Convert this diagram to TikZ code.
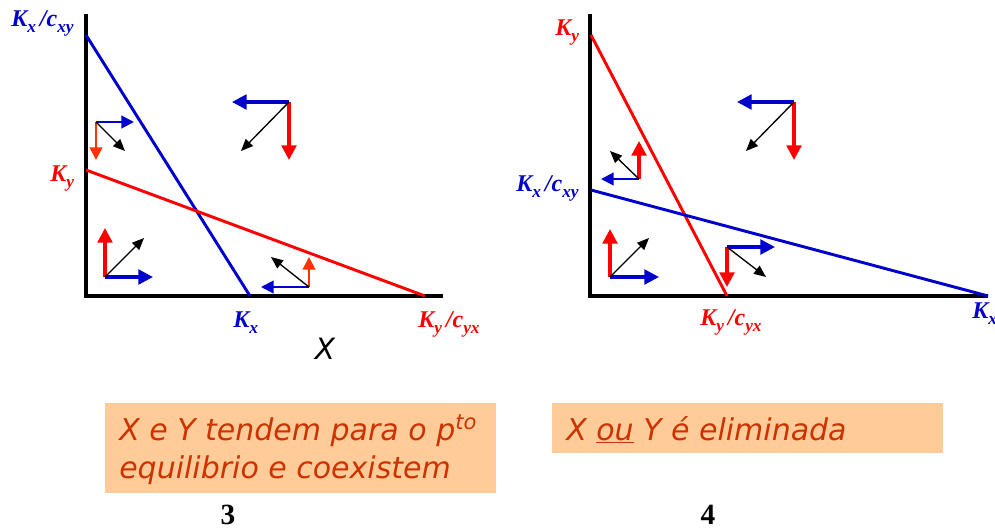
\documentclass[tikz,border=0pt]{standalone}
\usepackage{fontspec}
\setmainfont{Liberation Serif}
\newfontfamily\comicfont{DejaVu Sans}
\usetikzlibrary{arrows.meta}
\definecolor{cblue}{HTML}{0000CC}
\definecolor{cred}{HTML}{FF0000}
\definecolor{corange}{HTML}{FF3300}
\definecolor{boxfill}{HTML}{FFCC99}
\definecolor{boxtext}{HTML}{CC3300}
\newcommand\ksub[2]{#1\raisebox{-4.5pt}{\fontsize{13}{13}\selectfont #2}}
\begin{document}
\begin{tikzpicture}[x=0.75pt,y=-0.75pt,
  axis/.style={line width=3pt},
  iso/.style={line width=2.2pt},
  bigarr/.style={line width=2.5pt,-{Triangle[length=11pt,width=11pt]}},
  smallarr/.style={line width=1.6pt,-{Triangle[length=9.5pt,width=9.5pt]}},
  blkarr/.style={line width=1pt,-{Triangle[length=9pt,width=7.5pt]}},
  klabel/.style={font=\fontsize{18}{20}\selectfont\bfseries\itshape, inner sep=0pt, anchor=base west},
  comic/.style={font=\fontsize{22.5}{28}\selectfont\comicfont\itshape, text=boxtext, inner sep=0pt, anchor=base west},
  numlabel/.style={font=\fontsize{22}{22}\selectfont\bfseries, inner sep=0pt, anchor=base}]
\useasboundingbox (0,0) rectangle (995,529);

% ---------------- left panel ----------------
\coordinate (LT) at (86,14);
\coordinate (LO) at (86,296);
\coordinate (LE) at (443,296);
\draw[axis] (LT) -- (LO) -- (LE);
\coordinate (LB1) at (86,35);
\coordinate (LB2) at (250,296);
\coordinate (LR1) at (86,170);
\coordinate (LR2) at (425,296);
\draw[iso,cblue] (LB1) -- (LB2);
\draw[iso,cred] (LR1) -- (LR2);

\node[klabel,text=cblue] (lkxc) at (11,26) {\ksub{K}{x}\hspace{3pt}/\ksub{c}{xy}};
\node[klabel,text=cred] (lky) at (50,181) {\ksub{K}{y}};
\node[klabel,text=cblue] (lkx) at (233,327) {\ksub{K}{x}};
\node[klabel,text=cred] (lkyc) at (418,327) {\ksub{K}{y}\hspace{3pt}/\ksub{c}{yx}};
\node[font=\fontsize{22}{24}\selectfont\comicfont\itshape, inner sep=0pt] (lX) at (325,349) {X};

% group 1
\coordinate (a1) at (96,122);
\coordinate (a1b) at (134,122);
\coordinate (a1r) at (96,160);
\coordinate (a1k) at (125,151);
\draw[smallarr,cblue] (a1) -- (a1b);
\draw[smallarr,corange] (a1) -- (a1r);
\draw[blkarr] (a1) -- (a1k);
% group 2
\coordinate (a2) at (289,102);
\coordinate (a2b) at (232,102);
\coordinate (a2r) at (289,160);
\coordinate (a2k) at (241,151);
\draw[bigarr,cblue] (a2) -- (a2b);
\draw[bigarr,cred] (a2) -- (a2r);
\draw[blkarr] (a2) -- (a2k);
% group 3
\coordinate (a3) at (105,277);
\coordinate (a3r) at (105,228);
\coordinate (a3b) at (153,277);
\coordinate (a3k) at (144,238);
\draw[bigarr,cred] (a3) -- (a3r);
\draw[bigarr,cblue] (a3) -- (a3b);
\draw[blkarr] (a3) -- (a3k);
% group 4
\coordinate (a4) at (309,287);
\coordinate (a4b) at (261,287);
\coordinate (a4r) at (309,257);
\coordinate (a4k) at (271,257);
\draw[smallarr,cblue] (a4) -- (a4b);
\draw[smallarr,corange] (a4) -- (a4r);
\draw[blkarr] (a4) -- (a4k);

% ---------------- right panel ----------------
\coordinate (RT) at (590,14);
\coordinate (RO) at (590,296);
\coordinate (RE) at (988,296);
\draw[axis] (RT) -- (RO) -- (RE);
\coordinate (RR1) at (591,35);
\coordinate (RR2) at (727,296);
\coordinate (RB1) at (591,190);
\coordinate (RB2) at (988,296);
\draw[iso,cred] (RR1) -- (RR2);
\draw[iso,cblue] (RB1) -- (RB2);

\node[klabel,text=cred] (rky) at (555,35) {\ksub{K}{y}};
\node[klabel,text=cblue] (rkxc) at (516,191) {\ksub{K}{x}\hspace{3pt}/\ksub{c}{xy}};
\node[klabel,text=cred] (rkyc) at (700,325) {\ksub{K}{y}\hspace{3pt}/\ksub{c}{yx}};
\node[klabel,text=cblue] (rkx) at (972,318) {\ksub{K}{x}};

% group 1
\coordinate (b1) at (639,179);
\coordinate (b1b) at (601,179);
\coordinate (b1r) at (639,141);
\coordinate (b1k) at (610,151);
\draw[smallarr,cblue] (b1) -- (b1b);
\draw[bigarr,cred] (b1) -- (b1r);
\draw[blkarr] (b1) -- (b1k);
% group 2
\coordinate (b2) at (794,102);
\coordinate (b2b) at (737,102);
\coordinate (b2r) at (794,160);
\coordinate (b2k) at (746,151);
\draw[bigarr,cblue] (b2) -- (b2b);
\draw[bigarr,cred] (b2) -- (b2r);
\draw[blkarr] (b2) -- (b2k);
% group 3
\coordinate (b3) at (610,277);
\coordinate (b3r) at (610,229);
\coordinate (b3b) at (659,277);
\coordinate (b3k) at (649,238);
\draw[bigarr,cred] (b3) -- (b3r);
\draw[bigarr,cblue] (b3) -- (b3b);
\draw[blkarr] (b3) -- (b3k);
% group 4
\coordinate (b4) at (727,247);
\coordinate (b4b) at (775,247);
\coordinate (b4r) at (727,287);
\coordinate (b4k) at (766,277);
\draw[bigarr,cblue] (b4) -- (b4b);
\draw[bigarr,cred] (b4) -- (b4r);
\draw[blkarr] (b4) -- (b4k);

% ---------------- text boxes ----------------
\fill[boxfill] (105,403) rectangle (496,493);
\node[comic] (t1) at (119,440) {X e Y tendem para o p\textsuperscript{to}};
\node[comic] (t2) at (119,478) {equilibrio e coexistem};
\fill[boxfill] (552,403) rectangle (943,453);
\node[comic] (t3) at (566,440) {X \underline{ou} Y é eliminada};

\node[numlabel] (n3) at (228,524) {3};
\node[numlabel] (n4) at (708,524) {4};
\end{tikzpicture}
\end{document}
